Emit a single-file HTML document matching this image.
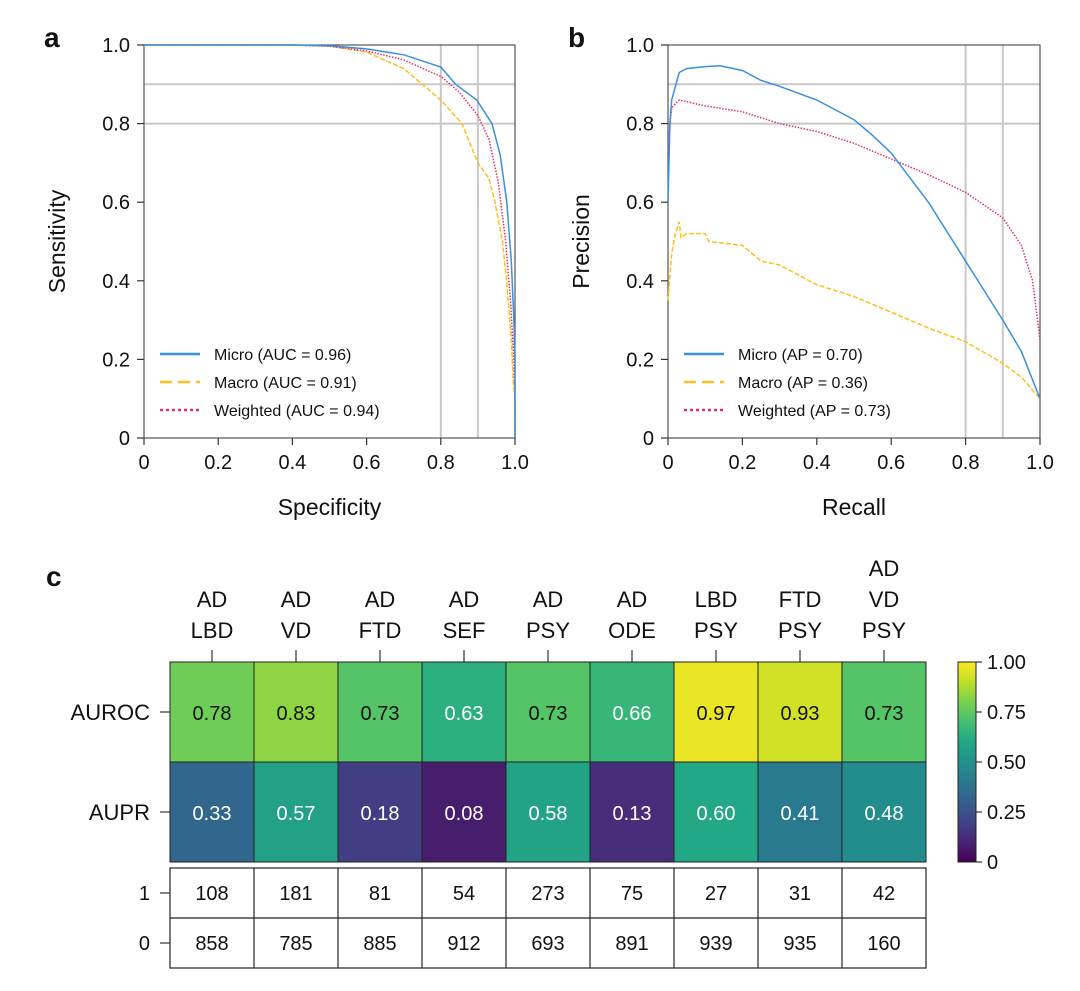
<!DOCTYPE html>
<html><head><meta charset="utf-8"><style>
body{margin:0;background:#fff;font-family:"Liberation Sans",sans-serif}
svg text{font-family:"Liberation Sans",sans-serif}
</style></head><body>
<svg id="s" width="1080" height="986" viewBox="0 0 1080 986" xmlns="http://www.w3.org/2000/svg"></svg>
<script>
const rocMicroX=[0,0.3,0.4,0.5,0.6,0.7,0.8,0.84,0.897,0.938,0.96,0.978,0.99,0.997,1.0,1.0];
const rocMicroY=[1,1,1,0.998,0.99,0.975,0.944,0.9,0.86,0.8,0.72,0.6,0.45,0.3,0.2,0];
const rocMacroX=[0,0.3,0.4,0.5,0.6,0.7,0.8,0.857,0.9,0.93,0.946,0.966,0.977,0.99,0.995,1.0,1.0];
const rocMacroY=[1,1,1,0.997,0.982,0.94,0.86,0.8,0.7,0.66,0.6,0.5,0.4,0.25,0.15,0.1,0];
const rocWX=[0,0.3,0.4,0.5,0.6,0.7,0.8,0.85,0.9,0.93,0.955,0.975,0.988,0.997,1.0,1.0];
const rocWY=[1,1,1,0.997,0.985,0.962,0.92,0.88,0.82,0.76,0.65,0.5,0.35,0.2,0.1,0];
const prMicroX=[0,0.005,0.01,0.03,0.05,0.1,0.14,0.2,0.25,0.3,0.4,0.5,0.55,0.6,0.7,0.8,0.9,0.95,1.0];
const prMicroY=[0.6,0.8,0.86,0.93,0.94,0.945,0.947,0.935,0.91,0.895,0.86,0.81,0.77,0.725,0.6,0.45,0.3,0.22,0.1];
const prMacroX=[0,0.01,0.02,0.03,0.035,0.05,0.1,0.11,0.2,0.25,0.3,0.4,0.5,0.6,0.7,0.8,0.9,0.95,1.0];
const prMacroY=[0.35,0.47,0.52,0.55,0.51,0.52,0.52,0.5,0.49,0.45,0.44,0.39,0.36,0.32,0.28,0.245,0.19,0.155,0.1];
const prWX=[0,0.005,0.01,0.02,0.03,0.1,0.2,0.3,0.4,0.5,0.6,0.7,0.8,0.9,0.95,0.98,1.0];
const prWY=[0.72,0.8,0.84,0.85,0.86,0.845,0.83,0.8,0.78,0.75,0.71,0.67,0.625,0.56,0.49,0.4,0.25];
const heatCats=[["AD","LBD"],["AD","VD"],["AD","FTD"],["AD","SEF"],["AD","PSY"],["AD","ODE"],["LBD","PSY"],["FTD","PSY"],["AD","VD","PSY"]];
const auroc=[0.78,0.83,0.73,0.63,0.73,0.66,0.97,0.93,0.73];
const aupr=[0.33,0.57,0.18,0.08,0.58,0.13,0.60,0.41,0.48];
const count1=[108,181,81,54,273,75,27,31,42];
const count0=[858,785,885,912,693,891,939,935,160];
const ticksA=["0","0.2","0.4","0.6","0.8","1.0"];

const S=document.getElementById('s');const NS="http://www.w3.org/2000/svg";
function el(tag,attrs,parent){const e=document.createElementNS(NS,tag);for(const k in attrs)e.setAttribute(k,attrs[k]);(parent||S).appendChild(e);return e;}
function txt(x,y,t,size,anchor,extra){const e=el('text',Object.assign({x:x,y:y,'font-size':size,'text-anchor':anchor||'middle',fill:'#111'},extra||{}));e.textContent=t;return e;}

function panel(x0,x1,label,xt,yt,series,legend,name){
  const y0=438,y1=45;
  const X=v=>x0+v*(x1-x0),Y=v=>y0-v*(y0-y1);
  const g=el('g',{});
  
  
  [0.9,0.8].forEach(v=>{el('line',{x1:x0,x2:x1,y1:Y(v),y2:Y(v),stroke:'#c8c8c8','stroke-width':2},g);el('line',{x1:X(v),x2:X(v),y1:y0,y2:y1,stroke:'#c8c8c8','stroke-width':2},g);});
  el('rect',{x:x0,y:y1,width:x1-x0,height:y0-y1,fill:'none',stroke:'#555','stroke-width':1.2},g);
  ticksA.forEach((t,i)=>{const v=i*0.2;
    el('line',{x1:X(v),x2:X(v),y1:y0,y2:y0+7,stroke:'#333','stroke-width':1.2},g);
    el('line',{x1:x0-7,x2:x0,y1:Y(v),y2:Y(v),stroke:'#333','stroke-width':1.2},g);
    txt(X(v),y0+31,t,20);
    txt(x0-14,Y(v)+7,t,20,'end');
  });
  const xl=txt((x0+x1)/2,515,xt,23);
  const yl=txt(0,0,yt,23,'middle',{transform:`translate(${x0-79},${(y0+y1)/2}) rotate(-90)`});
  const pl=txt(x0-100,47,label,28,'start',{'font-weight':'bold'});
  series.forEach(s=>{
    const d=s.xs.map((v,i)=>(i?'L':'M')+X(v).toFixed(1)+','+Y(s.ys[i]).toFixed(1)).join('');
    const p=el('path',Object.assign({d:d,fill:'none',stroke:s.c,'stroke-width':1.5},s.dash?{'stroke-dasharray':s.dash}:{}),g);
    
    
  });
  legend.forEach((l,i)=>{const ly=354+i*28;
    el('line',Object.assign({x1:x0+16,x2:x0+56,y1:ly,y2:ly,stroke:l.c,'stroke-width':l.w},l.dash?{'stroke-dasharray':l.dash}:{}),g);
    const t=txt(x0+70,ly+6,l.t,16,'start');
  });
}
const BL='#3b8fe0',YE='#ffbf1f',PK='#e0306a';
panel(144,515,'a','Specificity','Sensitivity',
 [{xs:rocMacroX,ys:rocMacroY,c:YE,dash:'5 2',n:'macro-roc-line'},{xs:rocWX,ys:rocWY,c:PK,dash:'1.5 1.5',n:'weighted-roc-line'},{xs:rocMicroX,ys:rocMicroY,c:BL,n:'micro-roc-line'}],
 [{t:'Micro (AUC = 0.96)',c:BL,w:2.5},{t:'Macro (AUC = 0.91)',c:YE,w:2.5,dash:'12 6'},{t:'Weighted (AUC = 0.94)',c:PK,w:2.5,dash:'3 3'}],'roc-panel');
panel(668,1040,'b','Recall','Precision',
 [{xs:prMacroX,ys:prMacroY,c:YE,dash:'5 2',n:'macro-pr-line'},{xs:prWX,ys:prWY,c:PK,dash:'1.5 1.5',n:'weighted-pr-line'},{xs:prMicroX,ys:prMicroY,c:BL,n:'micro-pr-line'}],
 [{t:'Micro (AP = 0.70)',c:BL,w:2.5},{t:'Macro (AP = 0.36)',c:YE,w:2.5,dash:'12 6'},{t:'Weighted (AP = 0.73)',c:PK,w:2.5,dash:'3 3'}],'pr-panel');

// viridis
const VS=[[68,1,84],[72,36,117],[65,68,135],[53,95,141],[42,120,142],[33,145,140],[34,168,132],[68,191,112],[122,209,81],[189,223,38],[253,231,37]];
function vir(v){v=Math.max(0,Math.min(1,v))*10;const i=Math.min(9,Math.floor(v)),f=v-i;const a=VS[i],b=VS[i+1];return 'rgb('+a.map((c,k)=>Math.round(c+(b[k]-c)*f)).join(',')+')';}
const hx0=170,cw=84,r1=662,rh=100;
const pc=txt(46,586,'c',28,'start',{'font-weight':'bold'});
heatCats.forEach((c,i)=>{const cx=hx0+cw*i+cw/2;
  el('line',{x1:cx,x2:cx,y1:r1-12,y2:r1,stroke:'#333','stroke-width':1.2});
  c.forEach((w,j)=>{const t=txt(cx,r1-24-(c.length-1-j)*31,w,22);});
});
[['AUROC',auroc],['AUPR',aupr]].forEach((r,ri)=>{const y=r1+ri*rh;
  el('line',{x1:hx0-10,x2:hx0,y1:y+rh/2,y2:y+rh/2,stroke:'#333','stroke-width':1.2});
  const rl=txt(hx0-20,y+rh/2+8,r[0],22,'end');
  r[1].forEach((v,i)=>{const x=hx0+cw*i;
    const c=el('rect',{x:x,y:y,width:cw,height:rh,fill:vir(v),stroke:'#222','stroke-width':1});
    
    
    const t=txt(x+cw/2,y+rh/2+8,v.toFixed(2),20,'middle',{fill:v>0.7?'#111':'#fff'});
  });
});
// counts table
const ty=868,th=50;
el('rect',{x:hx0,y:ty,width:cw*9,height:th*2,fill:'none',stroke:'#222','stroke-width':1.2});
el('line',{x1:hx0,x2:hx0+cw*9,y1:ty+th,y2:ty+th,stroke:'#222','stroke-width':1.2});
for(let i=1;i<9;i++)el('line',{x1:hx0+cw*i,x2:hx0+cw*i,y1:ty,y2:ty+th*2,stroke:'#222','stroke-width':1.2});
[['1',count1],['0',count0]].forEach((r,ri)=>{const y=ty+ri*th;
  el('line',{x1:hx0-10,x2:hx0,y1:y+th/2,y2:y+th/2,stroke:'#333','stroke-width':1.2});
  txt(hx0-20,y+th/2+7,r[0],20,'end');
  r[1].forEach((v,i)=>{const t=txt(hx0+cw*i+cw/2,y+th/2+7,String(v),20);});
});
// colorbar
const defs=el('defs',{});const lg=el('linearGradient',{id:'cb',x1:0,y1:1,x2:0,y2:0},defs);
for(let k=0;k<=10;k++)el('stop',{offset:k/10,'stop-color':vir(k/10)},lg);
const cb=el('rect',{x:958,y:662,width:18,height:200,fill:'url(#cb)',stroke:'#222','stroke-width':1});


['0','0.25','0.50','0.75','1.00'].forEach((t,i)=>{const y=862-i*50;
  el('line',{x1:976,x2:982,y1:y,y2:y,stroke:'#333','stroke-width':1.2});
  txt(987,y+7,t,20,'start');
});
</script>
</body></html>
